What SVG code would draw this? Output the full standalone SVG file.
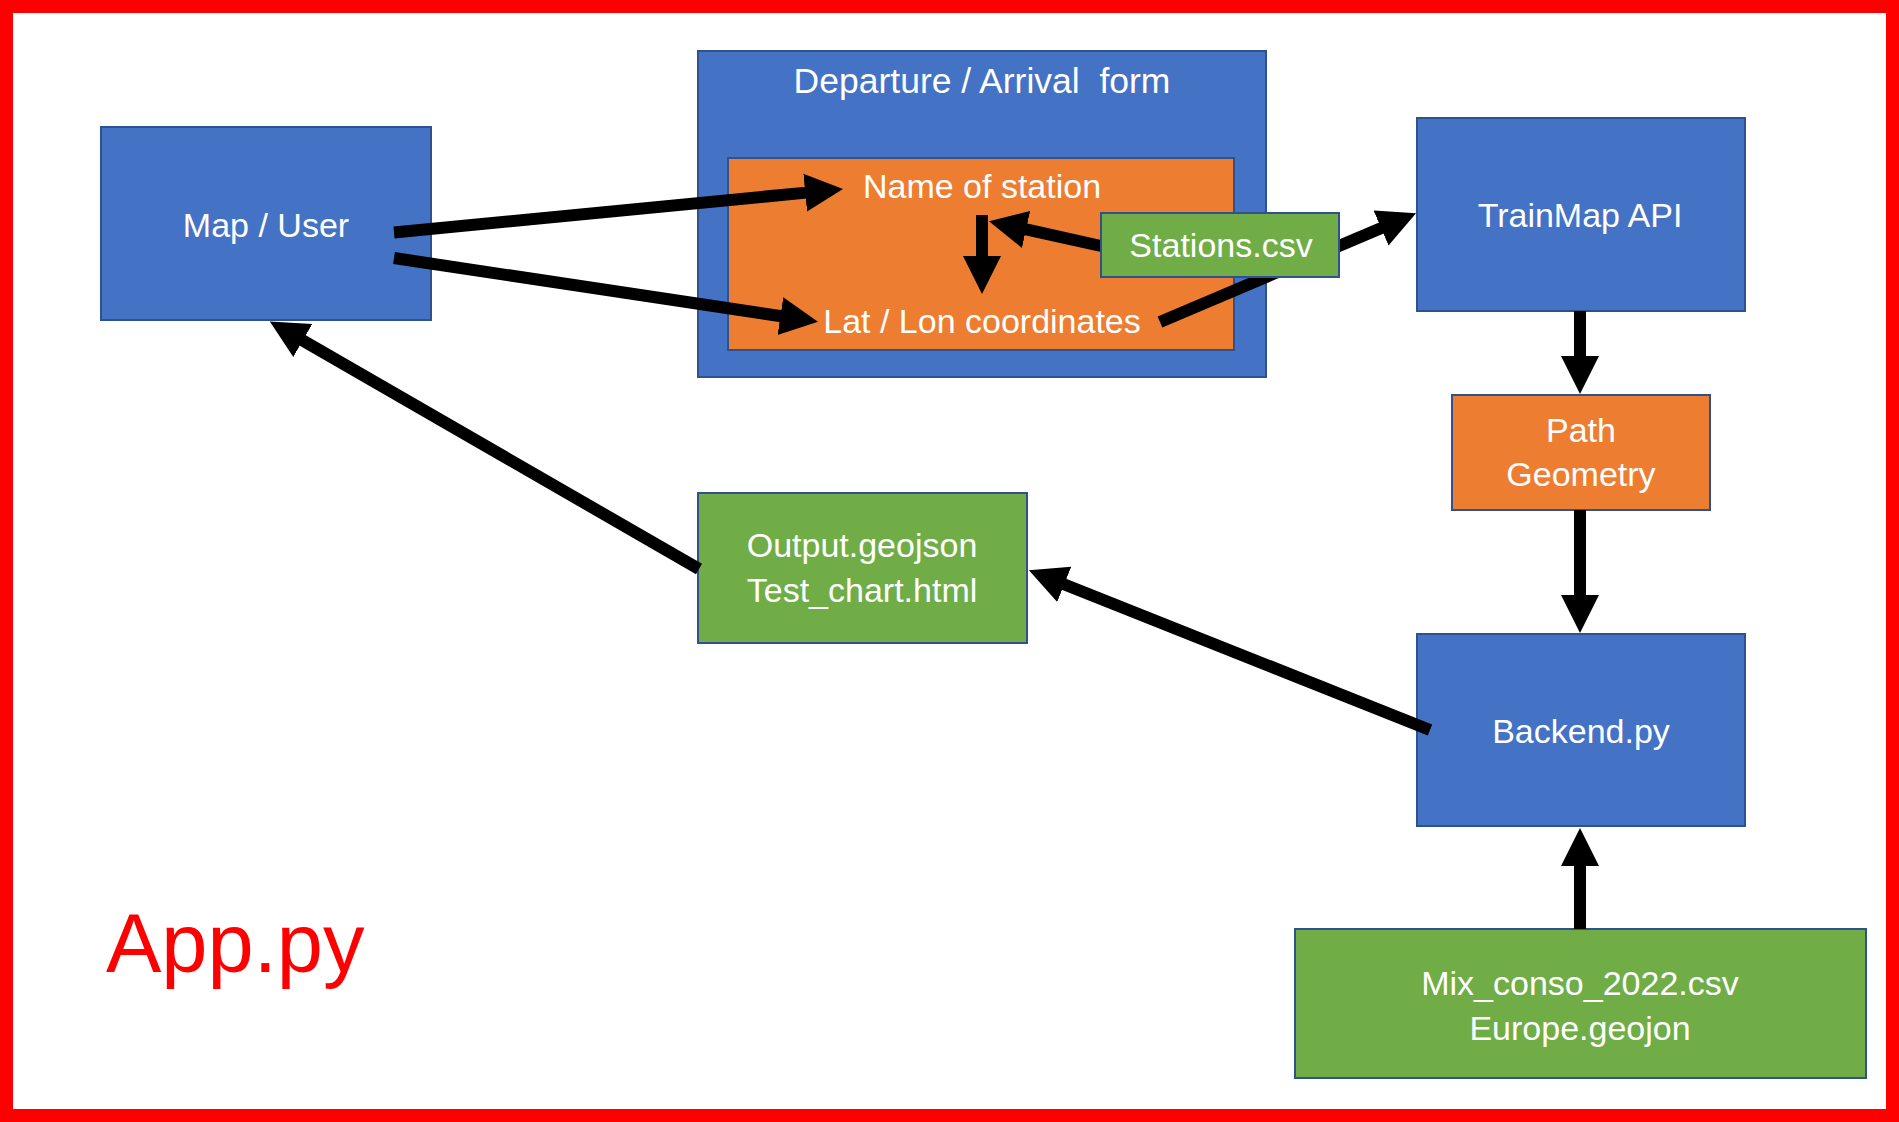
<svg xmlns="http://www.w3.org/2000/svg" width="1899" height="1122" viewBox="0 0 1899 1122">
  <defs>
    <marker id="ah" markerUnits="userSpaceOnUse" markerWidth="40" markerHeight="40" viewBox="0 -20 40 40" refX="1" refY="0" orient="auto">
      <path d="M0,-19 L38,0 L0,19 Z" fill="#000"/>
    </marker>
  </defs>
  <style>
    .blue { fill: #4472C4; stroke: #2F528F; stroke-width: 2; }
    .orange { fill: #ED7D31; stroke: #2F528F; stroke-width: 2; }
    .green { fill: #70AD47; stroke: #2F528F; stroke-width: 2; }
    .lbl { font-family: "Liberation Sans", Arial, sans-serif; font-size: 34px; fill: #FFFFFF; text-anchor: middle; white-space: pre; }
    .conn line { stroke: #000; stroke-width: 12; marker-end: url(#ah); }
  </style>
  <rect width="1899" height="1122" fill="#FFFFFF"/>
  <rect id="frame" x="6.5" y="6.5" width="1886" height="1109" fill="none" stroke="#FF0000" stroke-width="13"/>

  <g id="map-user">
    <rect class="blue" x="101" y="127" width="330" height="193"/>
    <text class="lbl" x="266" y="237">Map / User</text>
  </g>

  <g id="departure-arrival-form">
    <rect class="blue" x="698" y="51" width="568" height="326"/>
    <text class="lbl" x="982" y="93" style="font-size:35.5px">Departure / Arrival  form</text>
    <rect class="orange" x="728" y="158" width="506" height="192"/>
    <text class="lbl" x="982" y="198">Name of station</text>
    <text class="lbl" x="982" y="333">Lat / Lon coordinates</text>
  </g>

  <g id="trainmap-api">
    <rect class="blue" x="1417" y="118" width="328" height="193"/>
    <text class="lbl" x="1580" y="227">TrainMap API</text>
  </g>

  <g id="path-geometry">
    <rect class="orange" x="1452" y="395" width="258" height="115"/>
    <text class="lbl" x="1581" y="442">Path</text>
    <text class="lbl" x="1581" y="486">Geometry</text>
  </g>

  <g id="output">
    <rect class="green" x="698" y="493" width="329" height="150"/>
    <text class="lbl" x="862" y="557">Output.geojson</text>
    <text class="lbl" x="862" y="602">Test_chart.html</text>
  </g>

  <g id="backend">
    <rect class="blue" x="1417" y="634" width="328" height="192"/>
    <text class="lbl" x="1581" y="743">Backend.py</text>
  </g>

  <g id="mix-conso">
    <rect class="green" x="1295" y="929" width="571" height="149"/>
    <text class="lbl" x="1580" y="995">Mix_conso_2022.csv</text>
    <text class="lbl" x="1580" y="1040">Europe.geojon</text>
  </g>

  <g id="app-label">
    <text x="106" y="972" style="font-family:'Liberation Sans', Arial, sans-serif; font-size:83px; fill:#FF0000">App.py</text>
  </g>

  <g id="connectors" class="conn">
    <line x1="394" y1="232.5" x2="806.2" y2="192.6"/>
    <line x1="394" y1="258" x2="781.4" y2="316.3"/>
    <line x1="982" y1="215" x2="982" y2="257"/>
    <line x1="1101" y1="246" x2="1025.1" y2="229.2"/>
    <line x1="1160" y1="322" x2="1382" y2="227.7"/>
    <line x1="1580" y1="311" x2="1580" y2="357"/>
    <line x1="1580" y1="510" x2="1580" y2="596"/>
    <line x1="1580" y1="929" x2="1580" y2="865"/>
    <line x1="1430" y1="730" x2="1063.3" y2="584"/>
    <line x1="699" y1="569" x2="301.9" y2="340"/>
  </g>

  <g id="stations-csv">
    <rect class="green" x="1101" y="213" width="238" height="64"/>
    <text class="lbl" x="1221" y="257">Stations.csv</text>
  </g>
</svg>
